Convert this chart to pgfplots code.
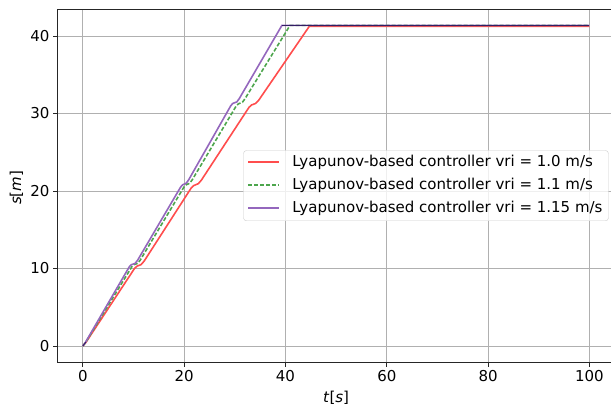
\documentclass[border=0pt]{standalone}
\usepackage{fontspec}
\setmainfont{DejaVu Sans}
\usepackage{pgfplots}
\pgfplotsset{compat=1.18}
\definecolor{cred}{RGB}{255,77,77}
\definecolor{cgreen}{RGB}{77,166,77}
\definecolor{cpurple}{RGB}{148,103,189}
\definecolor{cgrid}{RGB}{176,176,176}
\definecolor{cframe}{RGB}{204,204,204}
\definecolor{cnavy}{RGB}{50,30,100}
\begin{document}
\begin{tikzpicture}
\begin{axis}[
  name=ax,
  scale only axis,
  width=557.3pt, height=352.7pt,
  xmin=-5, xmax=105, ymin=-2.07, ymax=43.45,
  xtick={0,20,...,100}, ytick={0,10,...,40},
  grid=major,
  major grid style={color=cgrid, line width=0.8pt},
  axis line style={black!85, line width=0.8pt},
  tick align=outside, major tick length=4.5pt,
  tick style={black!85, line width=0.8pt},
  xtick pos=bottom, ytick pos=left,
  /pgf/number format/assume math mode=true,
  ticklabel style={font=\fontsize{15}{18}\selectfont},
  label style={font=\fontsize{15}{18}\selectfont},
  xlabel={\textit{t}[\textit{s}]},
  ylabel={\textit{s}[\textit{m}]},
  xlabel style={at={(axis description cs:0.5,-0.1007)}, anchor=center},
  ylabel style={at={(axis description cs:-0.0736,0.494)}, anchor=center},
  legend cell align=left,
  legend image code/.code={\draw[#1, line width=2pt] (0pt,0.5pt) -- (31pt,0.5pt);},
  legend style={at={(rel axis cs:0.989,0.5)}, anchor=east,
    draw=cframe, rounded corners=3pt, fill=white, fill opacity=0.8, text opacity=1, draw opacity=1,
    font=\fontsize{15}{18}\selectfont, inner xsep=4pt, inner ysep=3pt,
    nodes={inner sep=2pt, text height=11pt, text depth=3.5pt},
    row sep=4.4pt, column sep=10pt},
]
\addplot[color=cred, line width=1.6pt] coordinates {
(0,0) (0.6,0.45) (10.2,10.0) (10.7,10.3) (11.5,10.5) (12.1,10.95)
(21.4,20.4) (21.9,20.7) (22.8,20.95) (23.4,21.4)
(32.8,30.8) (33.3,31.1) (34.1,31.3) (34.7,31.7)
(44.7,41.25) (100,41.25)};
\addlegendentry{Lyapunov-based controller vri = 1.0 m/s}
\addplot[color=cgreen, line width=1.6pt, dash pattern=on 4pt off 2pt] coordinates {
(0,0) (0.5,0.4) (9.7,10.25) (10.1,10.5) (10.8,10.65) (11.3,11.05)
(20.0,20.55) (20.4,20.8) (21.1,21.0) (21.6,21.45)
(30.3,31.0) (30.7,31.25) (31.5,31.45) (32.0,31.9)
(40.9,41.38) (100,41.38)};
\addlegendentry{Lyapunov-based controller vri = 1.1 m/s}
\addplot[color=cpurple, line width=1.6pt] coordinates {
(0,0) (0.5,0.45) (9.2,10.25) (9.6,10.5) (10.3,10.65) (10.8,11.05)
(19.3,20.5) (19.7,20.8) (20.4,21.0) (20.9,21.45)
(29.2,31.0) (29.6,31.3) (30.4,31.5) (30.9,31.95)
(39.3,41.38) (100,41.38)};
\addlegendentry{Lyapunov-based controller vri = 1.15 m/s}
\addplot[cnavy, line width=1.1pt, forget plot] coordinates {(39.3,41.38) (100,41.38)};
\addplot[cnavy, line width=0.9pt, forget plot] coordinates {(0,0) (0.6,0.5)};
\end{axis}
\pgfresetboundingbox
\path[use as bounding box] (ax.south west) ++(-57.5pt,-45pt) rectangle ++(611pt,407pt);
\end{tikzpicture}
\end{document}
